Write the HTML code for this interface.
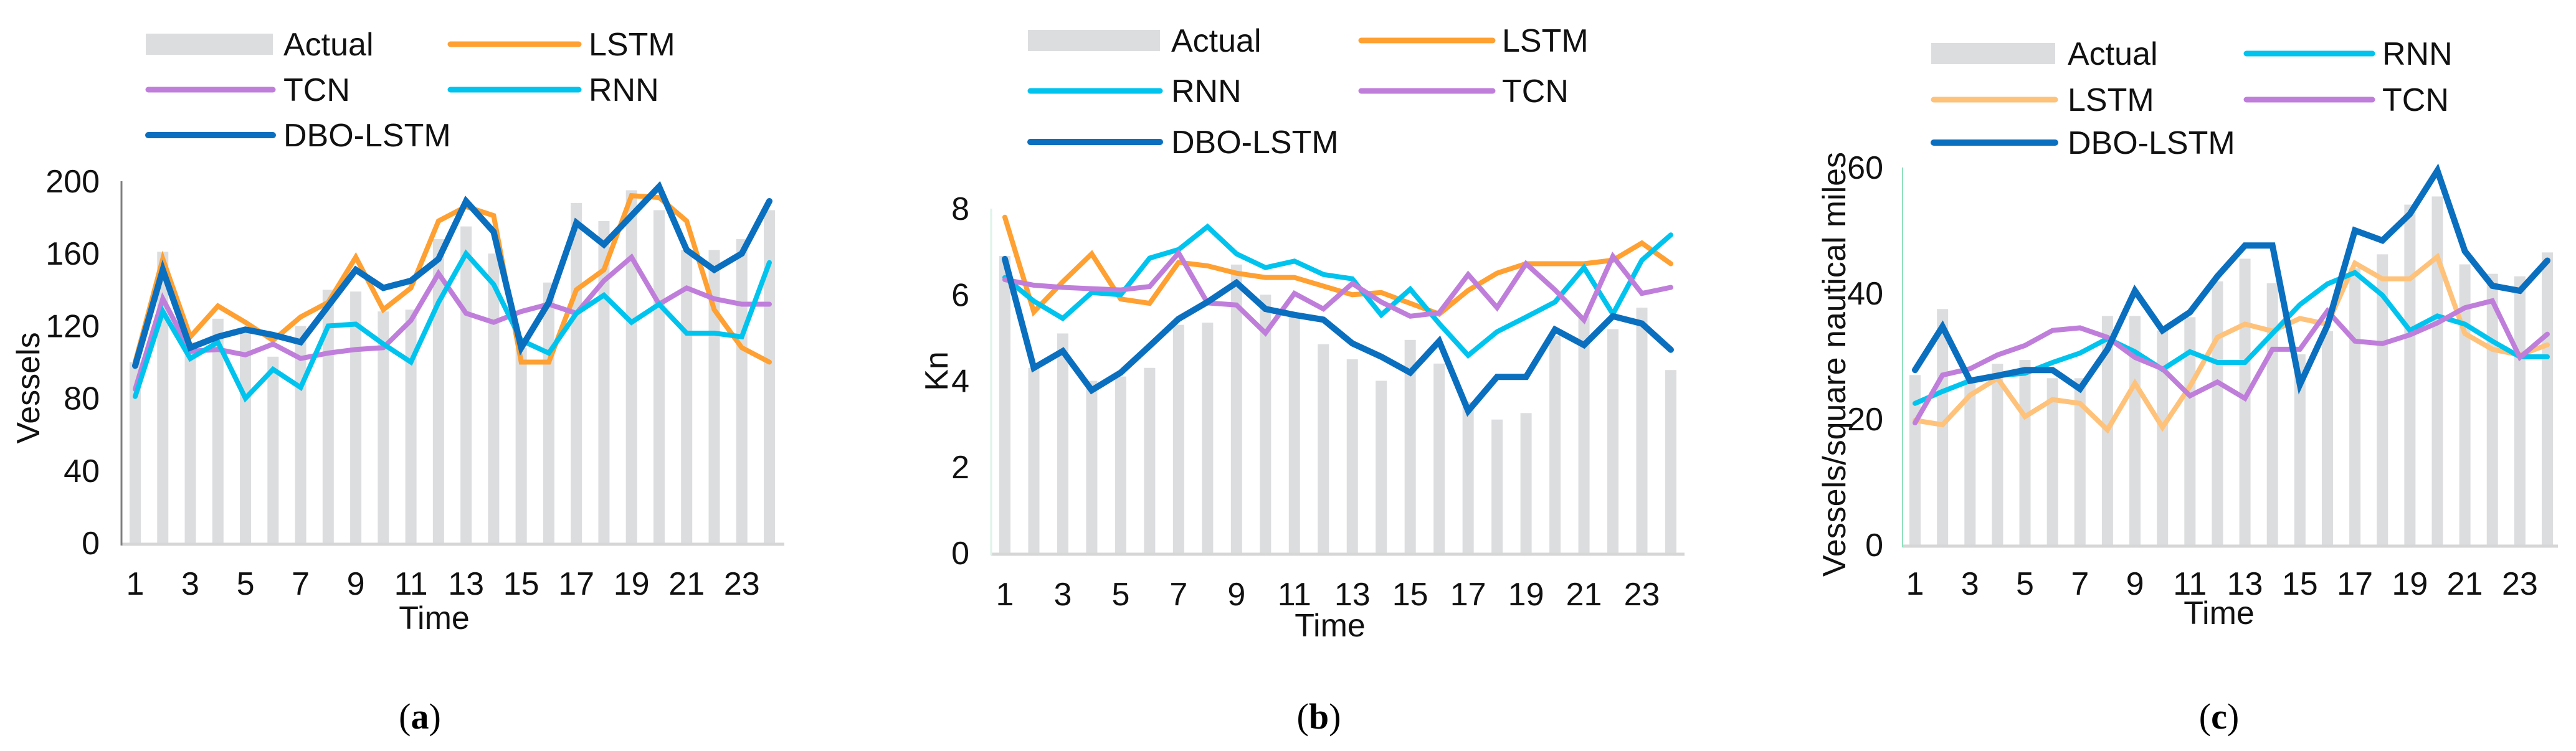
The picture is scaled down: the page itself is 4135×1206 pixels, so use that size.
<!DOCTYPE html>
<html><head><meta charset="utf-8"><style>
html,body{margin:0;padding:0;background:#fff;}
svg{display:block;font-family:"Liberation Sans",Arial,sans-serif;}
</style></head><body>
<svg id="fig" width="4135" height="1206" viewBox="0 0 4135 1206" xmlns="http://www.w3.org/2000/svg"></svg>
<script>
// ---- shared categories ----
const timeSteps = [1,2,3,4,5,6,7,8,9,10,11,12,13,14,15,16,17,18,19,20,21,22,23,24];
const xTickLabels = [1,3,5,7,9,11,13,15,17,19,21,23];

// ---- chart (a): vessel count ----
const aYTicks = [0,40,80,120,160,200];
const aActual = [100,161,111,124,118,103,120,140,139,128,129,168,175,160,108,144,188,178,195,184,162,162,168,184];
const aLSTM = [100,157,114,131,122,112,125,133,158,129,141,178,186,181,100,100,140,151,192,191,178,129,108,100];
const aTCN = [85,135,106,107,104,110,102,105,107,108,123,149,127,122,128,132,127,145,158,132,141,135,132,132];
const aRNN = [81,128,102,111,80,96,86,120,121,110,100,133,160,143,112,105,127,137,122,132,116,116,114,155];
const aDBO = [98,151,108,114,118,115,111,131,151,141,145,157,189,172,108,133,177,165,181,197,162,151,160,189];

// ---- chart (b): speed ----
const bYTicks = [0,2,4,6,8];
const bActual = [6.9,4.3,5.1,4.0,4.1,4.3,5.3,5.35,6.7,6.0,5.5,4.85,4.5,4.0,4.95,4.4,3.5,3.1,3.25,5.05,5.5,5.2,5.7,4.25];
const bLSTM = [7.8,5.6,6.3,6.95,5.9,5.8,6.75,6.67,6.5,6.4,6.4,6.2,6.0,6.05,5.8,5.55,6.1,6.5,6.72,6.72,6.72,6.8,7.2,6.72];
const bRNN = [6.4,5.85,5.45,6.05,6.0,6.85,7.05,7.58,6.95,6.63,6.78,6.47,6.37,5.53,6.13,5.33,4.59,5.14,5.48,5.83,6.63,5.55,6.8,7.39];
const bTCN = [6.35,6.22,6.17,6.14,6.11,6.19,6.97,5.81,5.76,5.11,6.03,5.67,6.26,5.83,5.5,5.58,6.47,5.7,6.72,6.11,5.41,6.89,6.03,6.17];
const bDBO = [6.83,4.3,4.69,3.78,4.19,4.81,5.44,5.83,6.28,5.67,5.53,5.42,4.87,4.56,4.19,4.92,3.3,4.09,4.09,5.19,4.83,5.5,5.33,4.72];

// ---- chart (c): density ----
const cYTicks = [0,20,40,60];
const cActual = [27,37.5,26.5,28.8,29.4,26.5,26.5,36.4,36.4,34.1,36.2,41.9,45.5,41.6,30.3,34,44,46.2,54.1,55.4,44.6,43.1,42.7,46.5];
const cLSTM = [19.8,19.1,23.8,26.5,20.4,23.1,22.5,18.3,25.7,18.7,25.2,33,35.1,34,36,35.1,44.8,42.3,42.3,45.8,33.6,31.1,30.2,31.8];
const cRNN = [22.5,24.4,26.1,26.9,27.3,29,30.5,32.8,30.7,27.9,30.7,29,29,33.6,38.2,41.5,43.3,39.7,34.1,36.4,35.1,32.4,29.9,29.9];
const cTCN = [19.4,27,28,30.2,31.7,34.1,34.5,33,29.8,28,23.7,25.9,23.3,31.1,31.1,37.2,32.4,32,33.4,35.3,37.7,38.8,29.8,33.5];
const cDBO = [27.8,34.7,26.1,26.9,27.8,27.8,24.8,31.1,40.4,34.1,37,42.7,47.6,47.6,25.5,34.9,50,48.4,52.6,59.5,46.7,41.2,40.4,45.2];

const NS = "http://www.w3.org/2000/svg";
const svg = document.getElementById('fig');
const C = {orange:"#FFA032", orangeL:"#FFC27A", tcn:"#C07EDB", rnn:"#00C3EE", dbo:"#0A6FBF", bar:"#DCDDDF"};

function mk(tag, attrs, parent){
  const e = document.createElementNS(NS, tag);
  for (const k in attrs) e.setAttribute(k, attrs[k]);
  (parent||svg).appendChild(e);
  return e;
}
function txt(s, attrs, parent){ const t = mk('text', attrs, parent); t.textContent = s; return t; }

function drawChart(L, actual, series, yTicks){
  const g = mk('g', {});
  
  
  const ymax = yTicks[yTicks.length-1];
  const xs = i => L.x1 + (L.x24 - L.x1) * (i) / (timeSteps.length - 1);
  const ys = v => L.bottom - (L.bottom - L.top) * v / ymax;
  // bars
  actual.forEach((v,i)=>{
    const r = mk('rect', {x: xs(i)-9, y: ys(v), width: 18, height: L.bottom - ys(v), fill: C.bar}, g);
    
    
  });
  // axes
  const xa = mk('line', {x1: L.left, y1: L.bottom+2, x2: L.right, y2: L.bottom+2, stroke: "#D6D6D6", 'stroke-width': 5}, g);
  
  
  const ya = mk('line', {x1: L.left, y1: L.top, x2: L.left, y2: L.bottom+4, stroke: L.yAxisColor, 'stroke-width': L.yAxisW}, g);
  
  
  // lines
  series.forEach(s=>{
    const pts = s.data.map((v,i)=> xs(i).toFixed(1)+','+ys(v).toFixed(1)).join(' ');
    const p = mk('polyline', {points: pts, fill: 'none', stroke: s.color, 'stroke-width': s.w, 'stroke-linejoin': 'miter', 'stroke-linecap': 'round'}, g);
    
    
  });
  // y ticks
  yTicks.forEach(v=>{
    const t = txt(String(v), {x: L.yLabX, y: ys(v)+18, 'font-size': 52, 'text-anchor': 'end', fill: '#111'}, g);
    
    
  });
  // x ticks
  xTickLabels.forEach(v=>{
    const t = txt(String(v), {x: xs(v-1), y: L.xLabY+18, 'font-size': 52, 'text-anchor': 'middle', fill: '#111'}, g);
    
    
  });
  const xt = txt('Time', {x: L.timeX, y: L.timeY+18, 'font-size': 52, 'text-anchor': 'middle', fill: '#111'}, g);
  
  
  const yt = txt(L.yTitle, {x: 0, y: 0, 'font-size': 52, 'text-anchor': 'middle', fill: '#111', transform: 'translate('+(L.yTitleX+18)+','+L.yTitleY+') rotate(-90)'}, g);
  
  
  // legend
  L.legend.forEach(e=>{
    const lg = mk('g', {}, g);
    
    
    if (e.bar) mk('rect', {x: e.sx, y: e.y-17, width: e.sw, height: 34, fill: C.bar}, lg);
    else mk('line', {x1: e.sx+4, y1: e.y, x2: e.sx+e.sw, y2: e.y, stroke: e.color, 'stroke-width': e.w, 'stroke-linecap': 'round'}, lg);
    txt(e.label, {x: e.tx, y: e.y+18, 'font-size': 52, fill: '#111'}, lg);
  });
  const cap = mk('text', {x: L.capX, y: L.capY+20, 'font-size': 58, 'text-anchor': 'middle', fill: '#000', 'font-family': '"Liberation Serif", serif'}, g);
  
  
  cap.innerHTML = '(<tspan font-weight="bold">' + L.cap + '</tspan>)';
}

// chart a
drawChart({name:'chart-a', left:195, right:1259, top:291, bottom:872, x1:217, x24:1235,
  yAxisColor:'#7F7F7F', yAxisW:3, yLabX:160, xLabY:937, timeX:697, timeY:992,
  yTitle:'Vessels', yTitleX:45, yTitleY:623, capX:674, capY:1150, cap:'a',
  legend:[
    {key:'actual', bar:true, sx:234, sw:204, y:71, tx:455, label:'Actual'},
    {key:'lstm', color:C.orange, w:9, sx:719, sw:210, y:71, tx:945, label:'LSTM'},
    {key:'tcn', color:C.tcn, w:9, sx:234, sw:204, y:144, tx:455, label:'TCN'},
    {key:'rnn', color:C.rnn, w:9, sx:719, sw:210, y:144, tx:945, label:'RNN'},
    {key:'dbo-lstm', color:C.dbo, w:10, sx:234, sw:204, y:217, tx:455, label:'DBO-LSTM'}
  ]}, aActual, [
  {key:'lstm', data:aLSTM, color:C.orange, w:8},
  {key:'tcn', data:aTCN, color:C.tcn, w:8},
  {key:'rnn', data:aRNN, color:C.rnn, w:8},
  {key:'dbo-lstm', data:aDBO, color:C.dbo, w:10}], aYTicks);

// chart b
drawChart({name:'chart-b', left:1591, right:2704, top:335, bottom:888, x1:1613, x24:2682,
  yAxisColor:'#DDF3EA', yAxisW:3, yLabX:1556, xLabY:954, timeX:2135, timeY:1004,
  yTitle:'Kn', yTitleX:1503, yTitleY:596, capX:2117, capY:1150, cap:'b',
  legend:[
    {key:'actual', bar:true, sx:1650, sw:212, y:65, tx:1880, label:'Actual'},
    {key:'lstm', color:C.orange, w:9, sx:2181, sw:215, y:65, tx:2411, label:'LSTM'},
    {key:'rnn', color:C.rnn, w:9, sx:1650, sw:212, y:146, tx:1880, label:'RNN'},
    {key:'tcn', color:C.tcn, w:9, sx:2181, sw:215, y:146, tx:2411, label:'TCN'},
    {key:'dbo-lstm', color:C.dbo, w:10, sx:1650, sw:212, y:228, tx:1880, label:'DBO-LSTM'}
  ]}, bActual, [
  {key:'lstm', data:bLSTM, color:C.orange, w:8},
  {key:'rnn', data:bRNN, color:C.rnn, w:8},
  {key:'tcn', data:bTCN, color:C.tcn, w:8},
  {key:'dbo-lstm', data:bDBO, color:C.dbo, w:10}], bYTicks);

// chart c
drawChart({name:'chart-c', left:3054, right:4106, top:269, bottom:875, x1:3074, x24:4089,
  yAxisColor:'#8FE0BC', yAxisW:2, yLabX:3023, xLabY:937, timeX:3562, timeY:984,
  yTitle:'Vessels/square nautical miles', yTitleX:2944, yTitleY:585, capX:3562, capY:1150, cap:'c',
  legend:[
    {key:'actual', bar:true, sx:3100, sw:199, y:86, tx:3319, label:'Actual'},
    {key:'rnn', color:C.rnn, w:9, sx:3602, sw:206, y:86, tx:3824, label:'RNN'},
    {key:'lstm', color:C.orangeL, w:9, sx:3100, sw:199, y:160, tx:3319, label:'LSTM'},
    {key:'tcn', color:C.tcn, w:9, sx:3602, sw:206, y:160, tx:3824, label:'TCN'},
    {key:'dbo-lstm', color:C.dbo, w:10, sx:3100, sw:199, y:229, tx:3319, label:'DBO-LSTM'}
  ]}, cActual, [
  {key:'lstm', data:cLSTM, color:C.orangeL, w:8},
  {key:'rnn', data:cRNN, color:C.rnn, w:8},
  {key:'tcn', data:cTCN, color:C.tcn, w:8},
  {key:'dbo-lstm', data:cDBO, color:C.dbo, w:10}], cYTicks);
</script>
</body></html>
